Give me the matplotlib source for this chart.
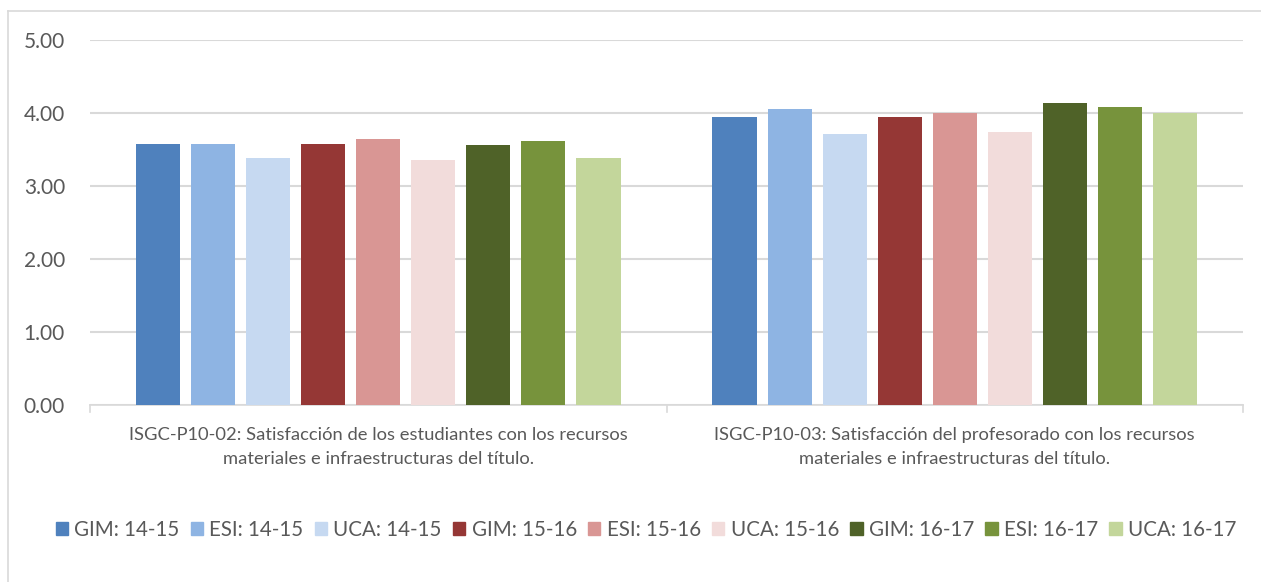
import matplotlib
matplotlib.use("Agg")
import matplotlib.pyplot as plt
import numpy as np
from matplotlib.lines import Line2D
from matplotlib.patches import Rectangle

categories = [
    "ISGC-P10-02: Satisfacción de los estudiantes con los recursos\nmateriales e infraestructuras del título.",
    "ISGC-P10-03: Satisfacción del profesorado con los recursos\nmateriales e infraestructuras del título.",
]
series_names = ["GIM: 14-15", "ESI: 14-15", "UCA: 14-15",
                "GIM: 15-16", "ESI: 15-16", "UCA: 15-16",
                "GIM: 16-17", "ESI: 16-17", "UCA: 16-17"]
gim_14_15 = [3.57, 3.94]
esi_14_15 = [3.57, 4.05]
uca_14_15 = [3.38, 3.71]
gim_15_16 = [3.57, 3.94]
esi_15_16 = [3.65, 4.00]
uca_15_16 = [3.36, 3.74]
gim_16_17 = [3.56, 4.14]
esi_16_17 = [3.62, 4.08]
uca_16_17 = [3.39, 4.00]
series_values = [gim_14_15, esi_14_15, uca_14_15, gim_15_16, esi_15_16,
                 uca_15_16, gim_16_17, esi_16_17, uca_16_17]
colors = ["#4f81bd", "#8eb4e3", "#c6d9f1", "#953735", "#d99694",
          "#f2dcdb", "#4f6228", "#77933c", "#c3d69b"]
yticks = [0, 1, 2, 3, 4, 5]

plt.rcParams['font.family'] = ['Lato', 'DejaVu Sans']
W, H = 1261, 582
fig = plt.figure(figsize=(W / 100, H / 100), dpi=100)
ax = fig.add_axes([90 / W, 1 - 405 / H, (1243 - 90) / W, (405 - 40) / H])

x = np.arange(len(categories))
step = 0.0955
width = 0.0765
n = len(series_values)
for i, (vals, c, name) in enumerate(zip(series_values, colors, series_names)):
    offs = (i - (n - 1) / 2) * step
    ax.bar(x + offs, vals, width=width, color=c, label=name, zorder=3)

ax.set_xlim(-0.5, 1.5)
ax.set_ylim(0, 5)
ax.set_yticks(yticks)
ax.set_yticklabels([f"{v:.2f}" for v in yticks])
ax.yaxis.grid(True, color="#d9d9d9", linewidth=1.5, zorder=0)
ax.set_axisbelow(True)
for s in ["top", "right", "left"]:
    ax.spines[s].set_visible(False)
ax.spines["bottom"].set_color("#d9d9d9")
ax.spines["bottom"].set_linewidth(1.2)
ax.tick_params(axis="y", length=0, labelsize=15, colors="#595959", pad=18)
ax.set_xticks(x)
ax.set_xticklabels(categories, fontsize=13.2, color="#595959", linespacing=1.6)
ax.tick_params(axis="x", length=0, pad=16)
# category separator ticks
for xv in [-0.5, 0.5, 1.5]:
    ax.plot([xv, xv], [0, -0.09], color="#d9d9d9", lw=1.2, clip_on=False, zorder=1)

handles = [Rectangle((0, 0), 1, 1, color=c) for c in colors]
fig.legend(handles, series_names, loc="center", ncol=9,
           bbox_to_anchor=(646 / W, 1 - 530 / H), frameon=False,
           fontsize=14.8, labelcolor="#595959", handlelength=0.6,
           handleheight=0.6, handletextpad=0.3, columnspacing=0.55)

# outer frame (left and top edges visible)
fig.add_artist(Line2D([8 / W, 8 / W], [0, 1 - 11 / H], transform=fig.transFigure,
                      color="#d9d9d9", lw=1.2))
fig.add_artist(Line2D([8 / W, 1], [1 - 11 / H, 1 - 11 / H], transform=fig.transFigure,
                      color="#d9d9d9", lw=1.2))

fig.savefig("out.png", dpi=100, facecolor="white")
